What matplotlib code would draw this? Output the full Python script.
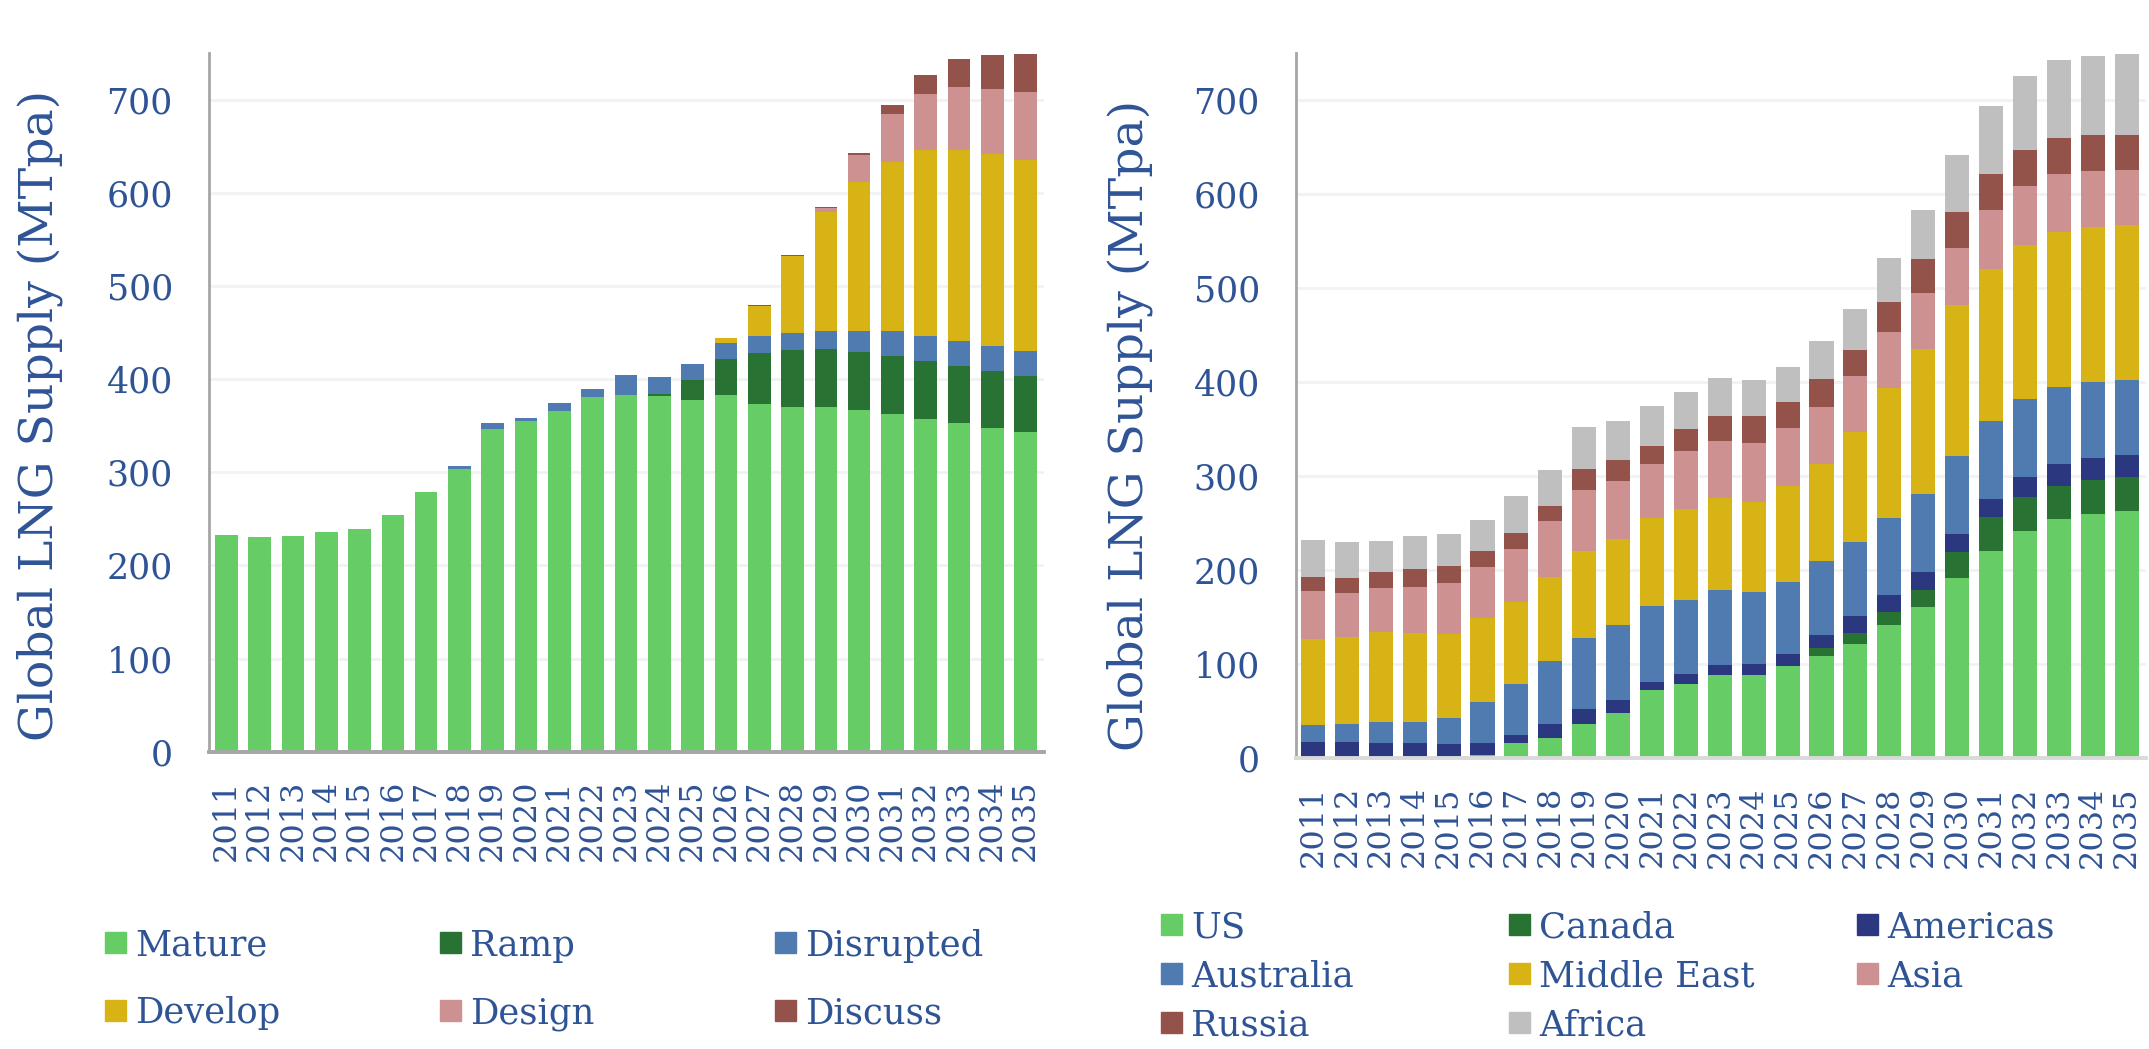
import matplotlib.pyplot as plt
from matplotlib.patches import Rectangle
import numpy as np

plt.rcParams['font.family'] = ['DejaVu Serif']

years = [str(y) for y in range(2011, 2036)]

# left chart: supply by project status (MTpa)
mature = [232.7, 230.5, 231.6, 235.9, 239.1, 254.1, 278.8, 303.5, 346.5, 355.0, 365.8, 381.0, 383.1,
          382.0, 377.7, 383.0, 373.4, 370.2, 370.2, 366.9, 362.6, 357.3, 353.0, 347.6, 343.3]
ramp = [0] * 13 + [2.0, 21.4, 38.6, 54.7, 61.2, 62.3, 62.3, 62.4, 62.3, 61.2, 61.2, 60.1]
disrupted = [0] * 7 + [3.3, 6.5, 3.3, 8.6, 8.6, 21.4, 18.5, 17.2, 17.3, 18.2, 18.2, 19.2, 22.5,
                       26.7, 26.7, 26.7, 26.8, 26.9]
develop = [0] * 15 + [5.4, 32.3, 82.8, 127.1, 160.1, 180.9, 199.1, 204.5, 205.6, 205.1]
design = [0] * 18 + [4.3, 29.0, 52.3, 60.9, 68.5, 70.5, 73.2]
discuss = [0] * 16 + [1.1, 1.1, 1.1, 2.2, 9.7, 20.4, 30.1, 36.6, 40.8]

# right chart: supply by region (MTpa)
us = [1.0, 0, 0, 0, 0, 3.5, 16.3, 21.6, 36.5, 48.2, 72.7, 79.1, 88.7, 88.7, 98.6, 108.9, 121.6,
      141.8, 161.0, 191.8, 220.6, 241.8, 254.6, 259.9, 263.1]
canada = [0] * 15 + [8.5, 11.7, 13.9, 18.1, 27.7, 36.1, 36.2, 35.1, 36.2, 36.2]
americas = [16.4, 17.4, 16.3, 16.3, 15.2, 12.8, 8.5, 14.9, 16.0, 13.9, 8.5, 10.6, 10.6, 11.7, 12.4,
            13.8, 18.1, 18.1, 19.1, 19.2, 19.2, 21.3, 23.4, 23.4, 23.4]
australia = [18.1, 19.5, 22.4, 22.4, 27.7, 43.6, 54.3, 67.0, 75.5, 79.7, 80.9, 78.7, 79.8, 76.6, 76.6,
             78.7, 78.7, 81.9, 83.0, 82.9, 82.8, 82.6, 81.6, 80.5, 79.4]
middle_east = [91.5, 92.2, 95.7, 94.3, 89.4, 89.4, 87.6, 89.8, 92.6, 91.9, 93.6, 96.8, 97.8, 95.7, 102.1,
               103.2, 116.9, 137.9, 153.9, 160.3, 161.5, 163.8, 164.9, 164.9, 164.9]
asia = [51.0, 46.8, 46.8, 49.3, 54.2, 54.2, 56.0, 59.2, 64.9, 61.3, 57.4, 61.8, 60.7, 62.8, 61.7,
        60.5, 59.4, 59.6, 59.6, 60.7, 62.8, 62.8, 61.7, 59.6, 58.5]
russia = [14.9, 15.9, 17.0, 19.1, 18.1, 17.1, 17.0, 15.9, 22.3, 22.4, 19.2, 23.4, 26.6, 28.7, 27.5,
          29.6, 27.6, 31.9, 36.2, 38.3, 38.3, 38.3, 38.3, 38.3, 37.3]
africa = [39.4, 38.3, 33.0, 35.1, 34.1, 32.9, 39.4, 38.3, 44.7, 41.5, 42.5, 39.0, 40.1, 37.9, 37.1,
          40.4, 43.7, 46.8, 52.1, 60.6, 72.3, 78.7, 83.0, 84.0, 86.1]

status_labels = ['Mature', 'Ramp', 'Disrupted', 'Develop', 'Design', 'Discuss']
region_labels = ['US', 'Canada', 'Americas', 'Australia', 'Middle East', 'Asia', 'Russia', 'Africa']

GREEN = '#66CC66'
DKGREEN = '#287233'
BLUE = '#4F7BB0'
GOLD = '#D8B315'
PINK = '#CC9190'
BROWN = '#94534A'
NAVY = '#2B3880'
GREY = '#BFBFBF'
TXT = '#2F5496'

W, H = 2149, 1049
fig = plt.figure(figsize=(W / 100, H / 100), dpi=100)
fig.patch.set_facecolor('white')


def style_axes(ax, bottom_color):
    ax.set_ylim(0, 750)
    ax.set_yticks(np.arange(0, 800, 100))
    ax.yaxis.grid(True, color='#F2F2F2', linewidth=2)
    ax.set_axisbelow(True)
    ax.spines['top'].set_visible(False)
    ax.spines['right'].set_visible(False)
    ax.spines['left'].set_color('#A6A6A6')
    ax.spines['left'].set_linewidth(2)
    ax.spines['bottom'].set_color(bottom_color)
    ax.spines['bottom'].set_linewidth(2.8)
    ax.set_xticks(np.arange(len(years)))
    ax.set_xticklabels(years, rotation=90)
    ax.tick_params(axis='y', length=0, pad=26, labelsize=25, labelcolor=TXT)
    ax.tick_params(axis='x', length=0, pad=20, labelsize=23, labelcolor=TXT)


def stacked(ax, series, colors, width):
    x = np.arange(len(years))
    bottom = np.zeros(len(years))
    for vals, c in zip(series, colors):
        ax.bar(x, vals, bottom=bottom, width=width, color=c, linewidth=0)
        bottom += np.array(vals)


# left panel
ax1 = fig.add_axes([209 / W, 1 - 751.7 / H, 835 / W, 698.7 / H])
stacked(ax1, [mature, ramp, disrupted, develop, design, discuss],
        [GREEN, DKGREEN, BLUE, GOLD, PINK, BROWN], 0.68)
ax1.set_xlim(-0.52, 24.55)
style_axes(ax1, '#A6A6A6')

# right panel
ax2 = fig.add_axes([1296 / W, 1 - 758.3 / H, 850 / W, 705 / H])
stacked(ax2, [us, canada, americas, australia, middle_east, asia, russia, africa],
        [GREEN, DKGREEN, NAVY, BLUE, GOLD, PINK, BROWN, GREY], 0.71)
ax2.set_xlim(-0.5, 24.57)
style_axes(ax2, '#D9D9D9')

fig.text(39.5 / W, 1 - 415 / H, 'Global LNG Supply (MTpa)', rotation=90,
         ha='center', va='center', fontsize=34, color=TXT)
fig.text(1130 / W, 1 - 425 / H, 'Global LNG Supply (MTpa)', rotation=90,
         ha='center', va='center', fontsize=34, color=TXT)


def legend_entry(x, y, color, label):
    # x, y: left edge / vertical centre of the square marker, in pixels
    fig.patches.append(Rectangle((x / W, 1 - (y + 10.5) / H), 21 / W, 21 / H,
                                 transform=fig.transFigure, color=color))
    fig.text((x + 30) / W, 1 - (y + 13.5) / H, label, ha='left', va='baseline',
             fontsize=25.5, color=TXT)


left_cols = [105, 440, 775]
left_rows = [942.5, 1010]
for i, (lab, c) in enumerate(zip(status_labels, [GREEN, DKGREEN, BLUE, GOLD, PINK, BROWN])):
    legend_entry(left_cols[i % 3], left_rows[i // 3], c, lab)

right_cols = [1161, 1509, 1857]
right_rows = [924.3, 973, 1022]
for i, (lab, c) in enumerate(zip(region_labels, [GREEN, DKGREEN, NAVY, BLUE, GOLD, PINK, BROWN, GREY])):
    legend_entry(right_cols[i % 3], right_rows[i // 3], c, lab)

plt.savefig('out.png', dpi=100, facecolor='white')
plt.close()
